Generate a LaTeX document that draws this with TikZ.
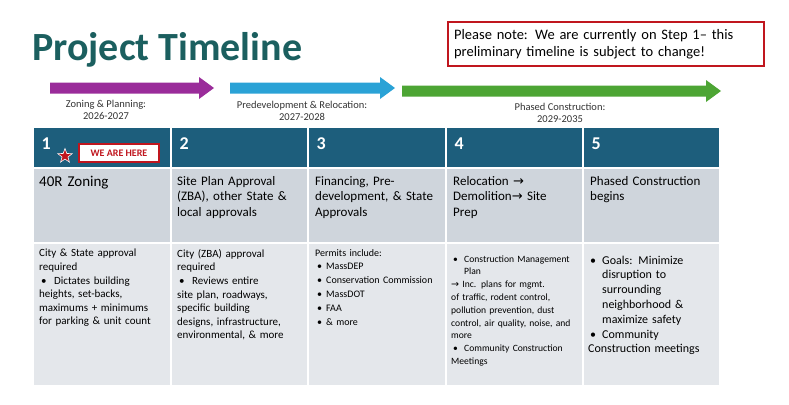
\documentclass[tikz,border=0pt]{standalone}
\usepackage{fontspec}
\setmainfont{Carlito}
\newfontfamily\symf{DejaVu Sans}
\usetikzlibrary{shapes.geometric}
\definecolor{teal}{HTML}{1D5E7C}
\definecolor{ttl}{HTML}{1B5F5F}
\definecolor{rowa}{HTML}{CFD5DC}
\definecolor{rowb}{HTML}{E4E7EB}
\definecolor{redc}{HTML}{C0161E}
\definecolor{purp}{HTML}{9A2C9A}
\definecolor{blu}{HTML}{2AA2D6}
\definecolor{grn}{HTML}{4DA534}
\newcommand{\ra}{{\symf\char"2192}}
\newcommand{\bitm}[1]{\par\hangindent=#1\hangafter=1\noindent\makebox[#1][l]{\hspace{2pt}•}}
\newcommand{\bigarrow}[5]{% x1 x2 y color name
 \fill[#4] (#1,#3-5.5) -- (#2-15,#3-5.5) -- (#2-15,#3-11) -- (#2,#3) -- (#2-15,#3+11) -- (#2-15,#3+5.5) -- (#1,#3+5.5) -- cycle;
 \coordinate (#5) at (#1,#3);}
\begin{document}
\hyphenpenalty=10000
\begin{tikzpicture}[x=1pt,y=-1pt,
 hdr/.style={fill=teal,draw=white,line width=1.5pt},
 ra/.style={fill=rowa,draw=white,line width=1.5pt},
 rb/.style={fill=rowb,draw=white,line width=1.5pt},
 num/.style={anchor=north west,text=white,font=\fontsize{18}{18}\selectfont\bfseries},
 t2/.style={anchor=north west,text width=120pt,align=left,font=\fontsize{13}{15.5}\selectfont,inner sep=0pt},
 t3/.style={anchor=north west,text width=124pt,align=left,inner sep=0pt},
 lab/.style={font=\fontsize{10.5}{12.5}\selectfont,align=center,text=black!80}]
\useasboundingbox (0,0) rectangle (789,404);
\node[anchor=west,text=ttl,font=\fontsize{40}{40}\selectfont\bfseries,inner sep=0] (title) at (32,50) {Project Timeline};
\node[draw=redc,line width=2.2pt,anchor=north west,minimum width=316pt,minimum height=44pt,text width=304pt,align=left,font=\fontsize{14.5}{17}\selectfont,inner sep=5pt] (note) at (447,21) {Please note: We are currently on Step 1-- this\\preliminary timeline is subject to change!};
\bigarrow{50}{214}{88}{purp}{a1}
\bigarrow{230}{395}{88}{blu}{a2}
\bigarrow{402}{721}{91}{grn}{a3}
\node[lab] (l1) at (106,110) {Zoning \& Planning:\\2026-2027};
\node[lab] (l2) at (302,111) {Predevelopment \& Relocation:\\2027-2028};
\node[lab] (l3) at (560,113) {Phased Construction:\\2029-2035};
\foreach \i/\a/\b in {1/33/171,2/171/308,3/308/446,4/446/583,5/583/720}{
 \draw[hdr] (\a,127) rectangle (\b,168);
 \draw[ra] (\a,168) rectangle (\b,243);
 \draw[rb] (\a,243) rectangle (\b,386);
 \node[num] (n\i) at (\a+5,134) {\i};
}
\node[star,star points=5,star point ratio=2.4,fill=redc,draw=white,line width=0.6pt,minimum size=15pt,inner sep=0] (st) at (65,156) {};
\node[draw=redc,fill=white,line width=2.2pt,font=\fontsize{10}{10}\selectfont\bfseries,text=redc,minimum width=80pt,minimum height=18pt,inner sep=1pt] (here) at (119,153) {WE ARE HERE};
\node[t2,font=\fontsize{15}{17}\selectfont] (c1) at (39,176) {40R Zoning};
\node[t2] (c2) at (177,176) {Site Plan Approval (ZBA), other State \& local approvals};
\node[t2] (c3) at (315,176) {Financing, Pre-development, \& State Approvals};
\node[t2] (c4) at (453,176) {Relocation \ra\\ Demolition\ra\ Site Prep};
\node[t2] (c5) at (590,176) {Phased Construction begins};
\node[t3,font=\fontsize{11}{13.6}\selectfont] (d1) at (39,249) {City \& State approval required\bitm{15pt}Dictates building heights, set-backs, maximums + minimums for parking \& unit count};
\node[t3,font=\fontsize{11}{13.6}\selectfont] (d2) at (177,249) {City (ZBA) approval required\bitm{15pt}Reviews entire site plan, roadways, specific building designs, infrastructure, environmental, \& more};
\node[t3,font=\fontsize{10}{13.8}\selectfont] (d3) at (315,249) {Permits include:\bitm{11pt}MassDEP\bitm{11pt}Conservation Commission\bitm{11pt}MassDOT\bitm{11pt}FAA\bitm{11pt}\& more};
\node[t3,font=\fontsize{9.6}{12.8}\selectfont] (d4) at (451,249) {\bitm{13pt}Construction Management Plan\par\noindent\ra\ Inc. plans for mgmt. of traffic, rodent control, pollution prevention, dust control, air quality, noise, and more\bitm{13pt}Community Construction Meetings};
\node[t3,font=\fontsize{12}{14.8}\selectfont,text width=120pt] (d5) at (588,249) {\bitm{14pt}Goals: Minimize disruption to surrounding neighborhood \& maximize safety\bitm{14pt}Community Construction meetings};
\end{tikzpicture}
\end{document}
